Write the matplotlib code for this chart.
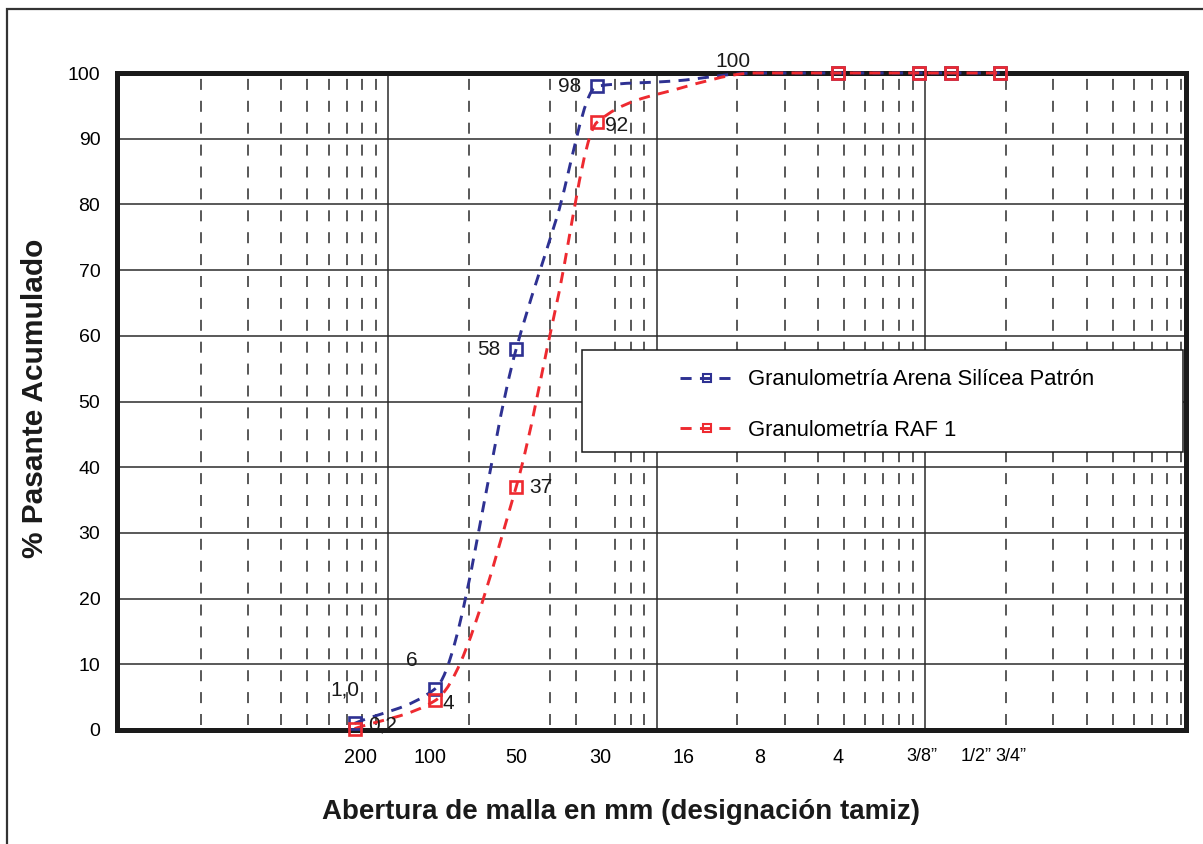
import matplotlib
matplotlib.use('Agg')
import matplotlib.pyplot as plt
import matplotlib.transforms as mtransforms
import numpy as np
from matplotlib.path import Path
from matplotlib.patches import PathPatch, Rectangle
from matplotlib.lines import Line2D
from matplotlib.ticker import LogLocator, NullFormatter, FixedLocator, FixedFormatter

plt.rcParams['font.family'] = ['Liberation Sans', 'DejaVu Sans']
plt.rcParams['lines.scale_dashes'] = False

# abertura de los tamices (mm)
tamiz_mm = [0.075, 0.15, 0.3, 0.425, 0.6, 1.18, 2.36, 4.75, 9.5, 12.5, 19.0]
# % pasante acumulado
patron = [1.0, 6.3, 58, 78, 98, 98.8, 100, 100, 100, 100, 100]
raf1 = [0.2, 4.5, 37, 65, 92.5, 97.5, 100, 100, 100, 100, 100]
con_marca = [0, 1, 2, 4, 7, 8, 9, 10]

tick_mm = [0.075, 0.15, 0.3, 0.6, 1.18, 2.36, 4.75, 9.5, 12.5, 19.0]
tick_txt = ['200', '100', '50', '30', '16', '8', '4', '3/8”', '1/2”', '3/4”']
tick_dx = [6, -5, 0, 3, 8, 3, 0, 3, 25, 11]   # desplazamiento de cada etiqueta (px)

azul = '#2e3192'
rojo = '#ee2a30'
gris = '#2b2b2b'


def curva_suave(x, y):
    # curva monotona (tipo pchip) en escala log, dibujada como bezier
    x = np.asarray(x, float)
    y = np.asarray(y, float)
    lx = np.log10(x)
    h = np.diff(lx)
    d = np.diff(y) / h
    m = np.zeros(len(y))
    m[0] = d[0]
    m[-1] = d[-1]
    for i in range(1, len(y) - 1):
        if d[i - 1] * d[i] <= 0:
            m[i] = 0
        else:
            w1 = 2 * h[i] + h[i - 1]
            w2 = h[i] + 2 * h[i - 1]
            m[i] = (w1 + w2) / (w1 / d[i - 1] + w2 / d[i])
    verts = [(x[0], y[0])]
    codes = [Path.MOVETO]
    for i in range(len(y) - 1):
        verts.append((10 ** (lx[i] + h[i] / 3), y[i] + m[i] * h[i] / 3))
        verts.append((10 ** (lx[i + 1] - h[i] / 3), y[i + 1] - m[i + 1] * h[i] / 3))
        verts.append((x[i + 1], y[i + 1]))
        codes += [Path.CURVE4] * 3
    return Path(verts, codes)


fig = plt.figure(figsize=(12.03, 8.44), dpi=100)
ax = fig.add_axes([117 / 1203, 1 - 730 / 844, (1186 - 117) / 1203, (730 - 73) / 844])

ax.set_xscale('log')
ax.set_xlim(0.00977, 93.9)
ax.set_ylim(0, 100)

# rejilla
ax.set_yticks(range(0, 101, 10))
ax.grid(axis='y', which='major', color=gris, lw=1.1, ls='-')
ax.xaxis.set_minor_locator(LogLocator(base=10, subs=range(2, 10)))
ax.xaxis.set_minor_formatter(NullFormatter())
per = 657 / 30 * 0.72
ax.grid(axis='x', which='minor', color=gris, lw=1.1,
        ls=(per - 5 * 0.72, (11 * 0.72, per - 11 * 0.72)))
for xv in [0.1, 1, 10]:
    ax.axvline(xv, color=gris, lw=1.1, zorder=1)

ax.xaxis.set_major_locator(FixedLocator(tick_mm))
ax.xaxis.set_major_formatter(FixedFormatter(tick_txt))
ax.tick_params(axis='y', which='both', length=0, labelsize=14, pad=12)
ax.tick_params(axis='x', which='both', length=0, labelsize=14.2, pad=13)
for lab, dx in zip(ax.get_xticklabels(), tick_dx):
    if '”' in lab.get_text():
        lab.set_fontsize(13)
    lab.set_transform(lab.get_transform() + mtransforms.ScaledTranslation(dx / 100, 0, fig.dpi_scale_trans))

for s in ax.spines.values():
    s.set_linewidth(3.6)
    s.set_color('#1a1a1a')
    s.set_zorder(3)

# curvas
for serie, col in [(patron, azul), (raf1, rojo)]:
    ax.add_patch(PathPatch(curva_suave(tamiz_mm, serie), fill=False, edgecolor=col,
                           lw=2.1, ls=(0, (8, 6)), capstyle='butt', zorder=4, clip_on=False))
    ax.plot(np.array(tamiz_mm)[con_marca], np.array(serie)[con_marca], 's', ms=8.5,
            mfc='none', mec=col, mew=1.9, zorder=5, clip_on=False)

# etiquetas de datos
etiquetas = [
    ('98', 0.6, 98, -19.5, 0),
    ('92', 0.6, 92.5, 14.4, -2),
    ('58', 0.3, 58, -20, -0.7),
    ('37', 0.3, 37, 18, -0.7),
    ('6', 0.15, 6.3, -17, 20),
    ('4', 0.15, 4.5, 9, -2),
    ('1,0', 0.075, 1.0, -7, 24),
    ('0,2', 0.075, 0.2, 20.5, 3),
    ('100', 2.36, 100, -17, 8.6),
]
for txt, xv, yv, dx, dy in etiquetas:
    ax.annotate(txt, (xv, yv), xytext=(dx, dy), textcoords='offset points',
                ha='center', va='center', fontsize=15, color='#1a1a1a', zorder=6,
                annotation_clip=False)

# leyenda
fig.patches.append(Rectangle((582 / 1203, 1 - 452 / 844), (1183 - 582) / 1203, (452 - 350) / 844,
                             transform=fig.transFigure, facecolor='white', edgecolor='#1a1a1a',
                             lw=1.1, zorder=7))
h1 = Line2D([], [], color=azul, lw=2.1, ls=(0, (8, 6)), marker='s', ms=6, mfc='none', mew=1.5)
h2 = Line2D([], [], color=rojo, lw=2.1, ls=(0, (8, 6)), marker='s', ms=6, mfc='none', mew=1.5)
leg = fig.legend([h1, h2], ['Granulometría Arena Silícea Patrón', 'Granulometría RAF 1'],
                 loc='center left', bbox_to_anchor=(680 / 1203, 1 - 405 / 844), frameon=False,
                 fontsize=15.8, handlelength=2.5, handletextpad=0.6, labelspacing=1.35,
                 borderpad=0, borderaxespad=0)
leg.set_zorder(8)

fig.text(35 / 1203, 1 - 398 / 844, '% Pasante Acumulado', rotation=90, ha='center', va='center',
         fontsize=21.5, fontweight='bold', color='#1a1a1a')
fig.text(621 / 1203, 1 - 812 / 844, 'Abertura de malla en mm (designación tamiz)', ha='center',
         va='center', fontsize=20, fontweight='bold', color='#1a1a1a')

# marco exterior
fig.patches.append(Rectangle((7 / 1203, -0.1), 1.2, 1 - 9 / 844 + 0.1, transform=fig.transFigure,
                             fill=False, edgecolor='#333333', lw=1.6))

fig.savefig('out.png', dpi=100)
